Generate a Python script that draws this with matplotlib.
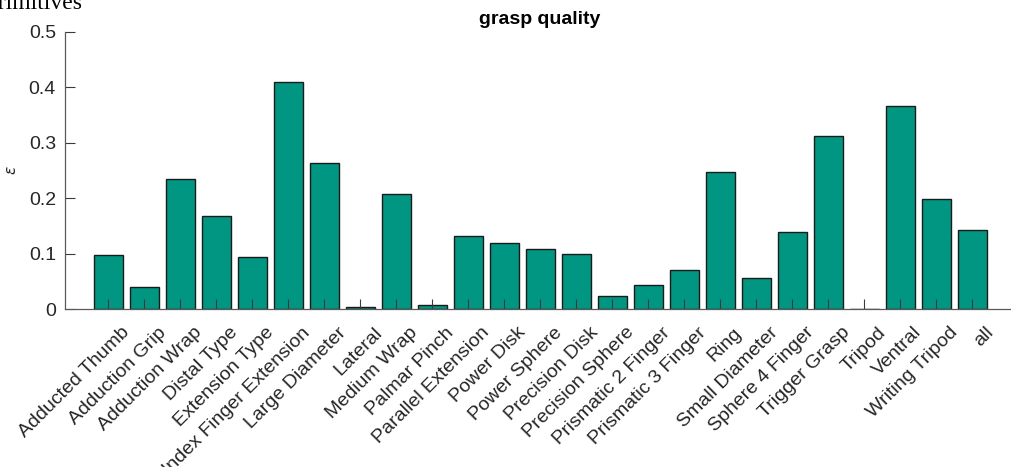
import matplotlib
matplotlib.use("Agg")
import matplotlib.pyplot as plt
from matplotlib.transforms import ScaledTranslation
import numpy as np

categories = ["Adducted Thumb", "Adduction Grip", "Adduction Wrap", "Distal Type",
              "Extension Type", "Index Finger Extension", "Large Diameter", "Lateral",
              "Medium Wrap", "Palmar Pinch", "Parallel Extension", "Power Disk",
              "Power Sphere", "Precision Disk", "Precision Sphere", "Prismatic 2 Finger",
              "Prismatic 3 Finger", "Ring", "Small Diameter", "Sphere 4 Finger",
              "Trigger Grasp", "Tripod", "Ventral", "Writing Tripod", "all"]
quality = [0.097, 0.039, 0.234, 0.167, 0.094, 0.410, 0.263, 0.004,
           0.208, 0.008, 0.132, 0.120, 0.108, 0.100, 0.024, 0.043,
           0.070, 0.247, 0.056, 0.139, 0.312, 0.0, 0.366, 0.198, 0.143]
yticks = [0, 0.1, 0.2, 0.3, 0.4, 0.5]
ytick_labels = ["0", "0.1", "0.2", "0.3", "0.4", "0.5"]

plt.rcParams['font.family'] = ['Liberation Sans', 'DejaVu Sans']
W, H, DPI = 1011, 467, 100
fig = plt.figure(figsize=(W / DPI, H / DPI), dpi=DPI)

ax_left, ax_right, ax_top, ax_bottom = 65, 1015.4, 32, 309
ax = fig.add_axes([ax_left / W, 1 - ax_bottom / H, (ax_right - ax_left) / W, (ax_bottom - ax_top) / H])

x = np.arange(len(categories))
ax.bar(x, quality, width=0.8, color='#009682', edgecolor='#1a1a1a', linewidth=1.0, zorder=1)

ax.set_xlim(-1.2, len(categories) - 1 + 1.2)
ax.set_ylim(0, 0.5)
ax.set_yticks(yticks)
ax.set_yticklabels(ytick_labels)
ax.set_xticks(x)
ax.set_xticklabels(categories, rotation=45, rotation_mode='anchor', ha='right', va='top')

for s in ['top', 'right']:
    ax.spines[s].set_visible(False)
for s in ['left', 'bottom']:
    ax.spines[s].set_color('#5a5a5a')
    ax.spines[s].set_linewidth(0.9)
    ax.spines[s].set_zorder(3)

ax.tick_params(axis='both', direction='in', length=7.2, width=0.8, color='#3a3a3a',
               labelsize=14, labelcolor='#262626')
ax.tick_params(axis='y', pad=6.5)
ax.tick_params(axis='x', pad=0)

offset = ScaledTranslation(13 / DPI, -15 / DPI, fig.dpi_scale_trans)
for lbl in ax.get_xticklabels():
    lbl.set_transform(lbl.get_transform() + offset)

fig.text(540 / W, 1 - 24 / H, "grasp quality", ha='center', va='baseline',
         fontsize=14, fontweight='bold', color='black')
fig.text(12 / W, 1 - 170 / H, r'$\epsilon$', rotation=90, ha='center', va='center',
         fontsize=11, color='#262626')
fig.text(-13 / W, 1 - 9 / H, "primitives", ha='left', va='baseline',
         fontsize=17, family='Liberation Serif', color='black')

fig.savefig("out.png", dpi=DPI)
